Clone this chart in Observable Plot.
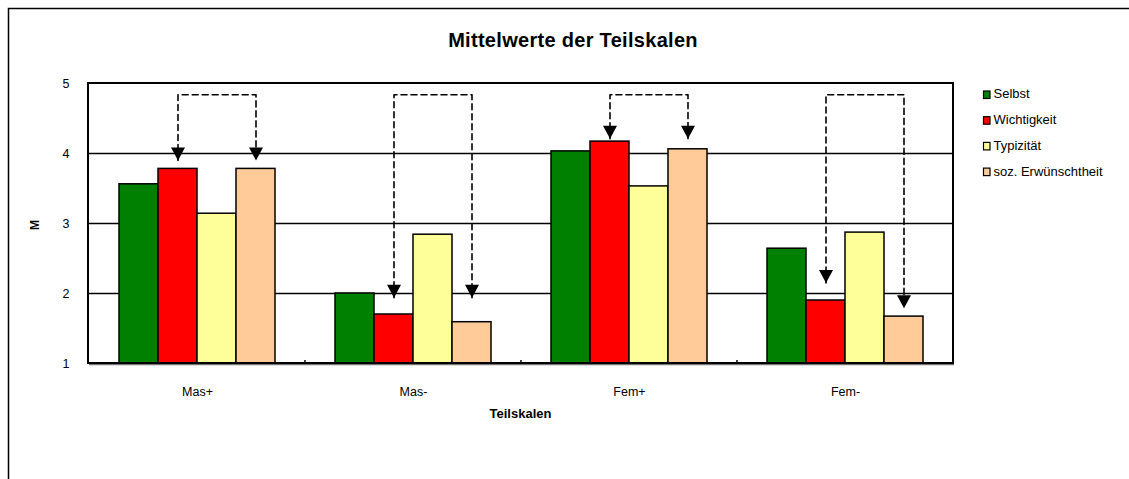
<!DOCTYPE html>
<html><head><meta charset="utf-8">
<script src="https://cdn.jsdelivr.net/npm/d3@7"></script>
<script src="https://cdn.jsdelivr.net/npm/@observablehq/plot@0.6"></script>
<style>
body{margin:0;background:#fff;}
#chart{position:relative;width:1129px;height:479px;overflow:hidden;font-family:"Liberation Sans",Arial,sans-serif;}
</style>
</head><body><div id="chart"></div>
<script>
// ---- data ----
const groups = ["Mas+", "Mas-", "Fem+", "Fem-"];
const series = ["Selbst", "Wichtigkeit", "Typizität", "soz. Erwünschtheit"];
const selbst      = [3.56, 2.00, 4.03, 2.64];
const wichtigkeit = [3.78, 1.70, 4.17, 1.90];
const typizitaet  = [3.14, 2.84, 3.53, 2.87];
const sozErw      = [3.78, 1.59, 4.06, 1.67];
const colors = ["#008000", "#ff0000", "#ffff99", "#ffcc99"];
const yTicks = [1, 2, 3, 4, 5];
const gridValues = [2, 3, 4];
// dashed arrows from "Wichtigkeit" to "soz. Erwünschtheit"
const arrowTop = 4.84;
const arrowTipLeft  = [3.90, 1.94, 4.21, 2.15];
const arrowTipRight = [3.90, 1.94, 4.21, 1.79];
const chartTitle = "Mittelwerte der Teilskalen";
const xLabel = "Teilskalen";
const yLabel = "M";

(function () {
// ---- tables ----
const seriesValues = [selbst, wichtigkeit, typizitaet, sozErw];
const bars = groups.flatMap((g, i) => series.map((s, j) => ({group: g, series: s, value: seriesValues[j][i]})));
const bracket = groups.flatMap((g, i) => [
  {group: g, series: series[1], y: arrowTipLeft[i]},
  {group: g, series: series[1], y: arrowTop},
  {group: g, series: series[3], y: arrowTop},
  {group: g, series: series[3], y: arrowTipRight[i]}
]);
const heads = groups.flatMap((g, i) => [
  {group: g, series: series[1], y: arrowTipLeft[i]},
  {group: g, series: series[3], y: arrowTipRight[i]}
]);

const arrowDown = {
  draw(context, size) {
    const r = Math.sqrt(size / Math.PI);
    context.moveTo(0, 0);
    context.lineTo(-r, -1.85 * r);
    context.lineTo(r, -1.85 * r);
    context.closePath();
  }
};

const M = {left: 88, right: 176, top: 83, bottom: 116};
const W = 1129, H = 479;

const plot = Plot.plot({
  width: W, height: H,
  marginLeft: M.left, marginRight: M.right, marginTop: M.top, marginBottom: M.bottom,
  style: {fontFamily: '"Liberation Sans", Arial, sans-serif', fontSize: "12.5px", color: "#000", background: "transparent", overflow: "visible"},
  fx: {domain: groups, padding: 0, label: null, axis: "bottom", tickSize: 0, tickPadding: 24},
  x: {domain: series, paddingInner: 0, paddingOuter: 0.734, axis: null},
  y: {domain: [1, 5], ticks: yTicks, tickSize: 0, tickPadding: 20, label: null, tickFormat: d3.format("d")},
  color: {domain: series, range: colors},
  marks: [
    Plot.ruleY(gridValues, {stroke: "#000", strokeWidth: 1.5}),
    Plot.barY(bars, {fx: "group", x: "series", y1: yTicks[0], y2: "value", fill: "series", stroke: "#000", strokeWidth: 1.5, inset: 0}),
    Plot.line(bracket, {fx: "group", x: "series", y: "y", z: "group", stroke: "#000", strokeWidth: 1.6, strokeDasharray: "6,4"}),
    Plot.dot(heads, {fx: "group", x: "series", y: "y", symbol: arrowDown, r: 7, fill: "#000", stroke: "none"})
  ]
});

document.getElementById("chart").appendChild(plot);
const svg = d3.select(plot);
const font = '"Liberation Sans", Arial, sans-serif';

// plot frame
const fxScale = plot.scale("fx");
const x0 = M.left, x1 = W - M.right, y0 = M.top, y1 = H - M.bottom;
svg.append("line").attr("x1", x0 + 1).attr("x2", x1 + 1).attr("y1", y1 + 1.5).attr("y2", y1 + 1.5)
  .attr("stroke", "#777").attr("stroke-width", 1.5);
svg.append("rect").attr("x", x0).attr("y", y0).attr("width", x1 - x0).attr("height", y1 - y0)
  .attr("fill", "none").attr("stroke", "#000").attr("stroke-width", 2);
// small group-boundary ticks
groups.slice(1).forEach(g => {
  const xb = fxScale.apply(g);
  svg.append("line").attr("x1", xb).attr("x2", xb).attr("y1", y1).attr("y2", y1 - 3)
    .attr("stroke", "#000").attr("stroke-width", 1.5);
});

// outer chart border (top and left edges visible in the crop)
svg.append("path").attr("d", `M8.5,${H}V8.5H${W}`)
  .attr("fill", "none").attr("stroke", "#000").attr("stroke-width", 1.5);

// title
svg.append("text").attr("x", 573).attr("y", 42).attr("text-anchor", "middle").attr("dominant-baseline", "middle")
  .attr("font-family", font).attr("font-size", 20).attr("font-weight", "bold").attr("letter-spacing", 0.3)
  .attr("fill", "#000").text(chartTitle);
// axis labels
svg.append("text").attr("transform", "translate(36,225) rotate(-90)").attr("text-anchor", "middle").attr("dominant-baseline", "middle")
  .attr("font-family", font).attr("font-size", 12).attr("font-weight", "bold").attr("fill", "#000").text(yLabel);
svg.append("text").attr("x", (x0 + x1) / 2).attr("y", 415).attr("text-anchor", "middle").attr("dominant-baseline", "middle")
  .attr("font-family", font).attr("font-size", 13).attr("font-weight", "bold").attr("fill", "#000").text(xLabel);

// legend
const color = plot.scale("color");
const lg = svg.append("g").attr("transform", "translate(983,95)");
series.forEach((s, i) => {
  const row = lg.append("g").attr("transform", `translate(0,${i * 25.7})`);
  row.append("rect").attr("x", 0.5).attr("y", -4).attr("width", 6.5).attr("height", 7.5)
    .attr("fill", color.apply(s)).attr("stroke", "#000").attr("stroke-width", 1.2);
  row.append("text").attr("x", 10.5).attr("y", 0).attr("text-anchor", "start").attr("dominant-baseline", "middle")
    .attr("font-family", font).attr("font-size", 13).attr("fill", "#000").text(s);
});
})();
</script>
</body></html>
